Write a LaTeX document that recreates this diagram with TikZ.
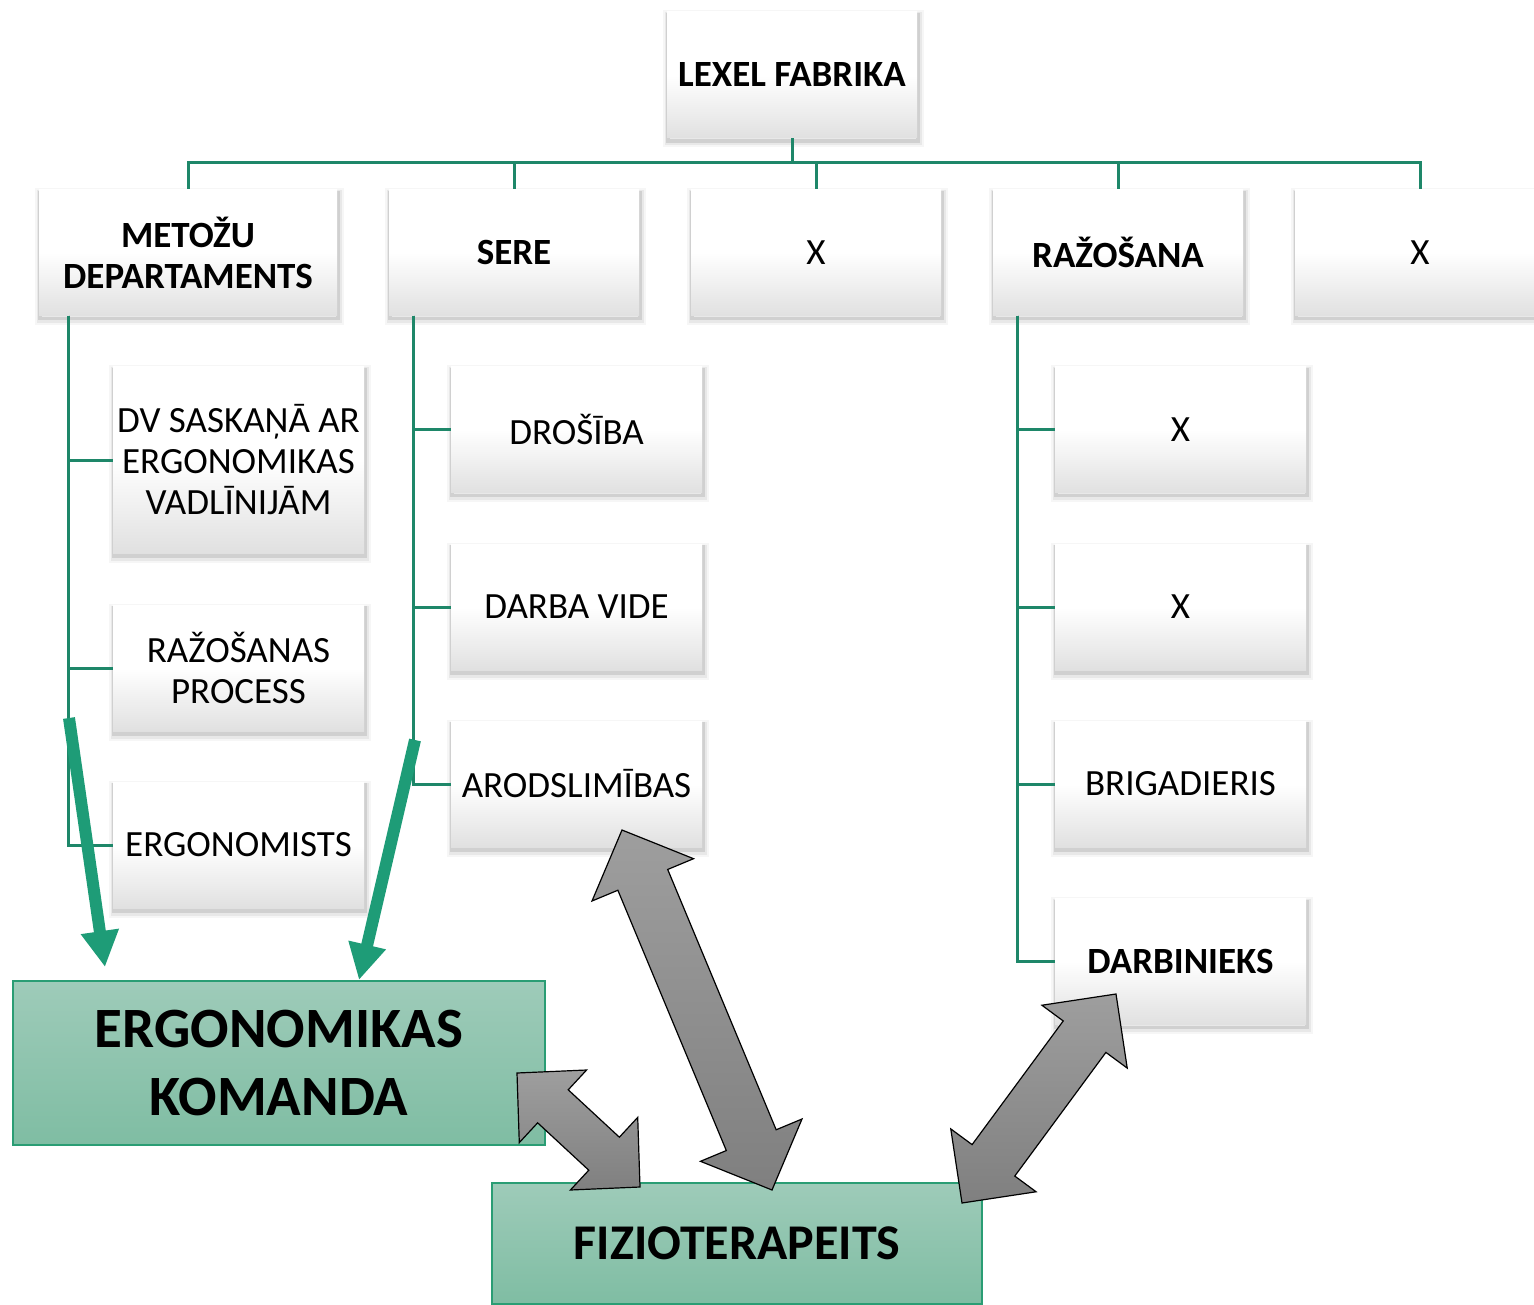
\documentclass[tikz,border=0pt]{standalone}
\usepackage{fontspec}
\setmainfont{Carlito}
\usetikzlibrary{calc,arrows.meta}
\definecolor{conncol}{RGB}{30,135,105}
\definecolor{garrcol}{RGB}{30,156,119}
\definecolor{gtop}{RGB}{158,203,185}
\definecolor{gbot}{RGB}{127,189,163}
\definecolor{gborder}{RGB}{42,157,116}
\newcommand\blockarrow[5]{%
  \path[grayarrow] (#1)
   -- ($(#1)!#5!(#2)!#4!90:(#2)$)
   -- ($(#1)!#5!(#2)!#3!90:(#2)$)
   -- ($(#2)!#5!(#1)!#3!-90:(#1)$)
   -- ($(#2)!#5!(#1)!#4!-90:(#1)$)
   -- (#2)
   -- ($(#2)!#5!(#1)!#4!90:(#1)$)
   -- ($(#2)!#5!(#1)!#3!90:(#1)$)
   -- ($(#1)!#5!(#2)!#3!-90:(#2)$)
   -- ($(#1)!#5!(#2)!#4!-90:(#2)$)
   -- cycle;}
\begin{document}
\begin{tikzpicture}[x=1pt,y=-1pt,
  softshadow/.style={
    preaction={draw=black, line width=11pt, opacity=0.035, transform canvas={shift={(1pt,-4pt)}}},
    preaction={draw=black, line width=7pt, opacity=0.06, transform canvas={shift={(1pt,-4pt)}}},
    preaction={draw=black, line width=3.5pt, opacity=0.10, transform canvas={shift={(1pt,-3pt)}}}},
  wbox/.style={softshadow, shading=axis, top color=white, bottom color=black!12, middle color=white,
    minimum width=250pt, minimum height=126pt, inner sep=0pt, align=center,
    font=\fontsize{37}{41}\selectfont},
  bwide/.style={minimum width=251pt},
  bold/.style={font=\fontsize{37}{41}\selectfont\bfseries},
  gbox/.style={shading=axis, top color=gtop, bottom color=gbot, draw=gborder, line width=2pt,
    inner sep=0pt, align=center},
  conn/.style={draw=conncol, line width=3pt},
  garrow/.style={draw=garrcol, line width=12pt, -{Triangle[length=36pt,width=36pt]}},
  grayarrow/.style={shading=axis, top color=black!38, bottom color=black!50, draw=black, line width=1.2pt, line join=miter}
]
\useasboundingbox (0,0) rectangle (1534,1305);

% top
\node[wbox, bold] (lexel) at (792,75) {LEXEL FABRIKA};
% second row
\node[wbox, bold, minimum width=298pt] (met) at (188,252.5) {METOŽU\\DEPARTAMENTS};
\node[wbox, bold] (sere) at (514,252.5) {SERE};
\node[wbox] (xa) at (816,252.5) {X};
\node[wbox, bold] (raz) at (1118,252.5) {RAŽOŠANA};
\node[wbox] (xb) at (1420,252.5) {X};
% bus
\coordinate (bus) at (792,163);
\draw[conn] (lexel.south) -- (bus);
\draw[conn] (bus) -| (met.north);
\draw[conn] (bus) -| (sere.north);
\draw[conn] (bus) -| (xa.north);
\draw[conn] (bus) -| (raz.north);
\draw[conn] (bus) -| (xb.north);

% metozu children
\node[wbox, bwide, minimum height=186pt] (dv) at (238.5,460) {DV SASKAŅĀ AR\\ERGONOMIKAS\\VADLĪNIJĀM};
\node[wbox, bwide] (rp) at (238.5,668) {RAŽOŠANAS\\PROCESS};
\node[wbox, bwide] (ergst) at (238.5,845) {ERGONOMISTS};
\coordinate (mtrunk) at ($(met.south west)+(30,0)$);
\draw[conn] (mtrunk) |- (dv.west);
\draw[conn] (mtrunk) |- (rp.west);
\draw[conn] (mtrunk) |- (ergst.west);

% sere children
\node[wbox, bwide] (dros) at (576.5,429.5) {DROŠĪBA};
\node[wbox, bwide] (dvide) at (576.5,607) {DARBA VIDE};
\node[wbox, bwide] (arod) at (576.5,784) {ARODSLIMĪBAS};
\coordinate (strunk) at ($(sere.south west)+(25,0)$);
\draw[conn] (strunk) |- (dros.west);
\draw[conn] (strunk) |- (dvide.west);
\draw[conn] (strunk) |- (arod.west);

% razosana children
\node[wbox, bwide] (rxa) at (1180.5,429.5) {X};
\node[wbox, bwide] (rxb) at (1180.5,607) {X};
\node[wbox, bwide] (brig) at (1180.5,784) {BRIGADIERIS};
\node[wbox, bwide, bold] (darb) at (1180.5,961.5) {DARBINIEKS};
\coordinate (rtrunk) at ($(raz.south west)+(25,0)$);
\draw[conn] (rtrunk) |- (rxa.west);
\draw[conn] (rtrunk) |- (rxb.west);
\draw[conn] (rtrunk) |- (brig.west);
\draw[conn] (rtrunk) |- (darb.west);

% bottom green boxes
\node[gbox, minimum width=532pt, minimum height=164pt, font=\fontsize{57}{68}\selectfont\bfseries] (ek) at (279,1063) {ERGONOMIKAS\\KOMANDA};
\node[gbox, minimum width=490pt, minimum height=121pt, font=\fontsize{50}{56}\selectfont\bfseries] (fiz) at (737,1243.5) {FIZIOTERAPEITS};

% green arrows
\coordinate (g1s) at (69,718);
\coordinate (g1e) at (105,967);
\coordinate (g2s) at (415,740);
\coordinate (g2e) at (359,980);
\draw[garrow] (g1s) -- (g1e);
\draw[garrow] (g2s) -- (g2e);

% gray double arrows
\coordinate (aa1) at (517,1073);
\coordinate (aa2) at (640,1187);
\coordinate (ab1) at (622,830);
\coordinate (ab2) at (772,1190);
\coordinate (ac1) at (1116,994);
\coordinate (ac2) at (962,1203);
\blockarrow{aa1}{aa2}{22.5pt}{49.5pt}{49pt}
\blockarrow{ab1}{ab2}{27pt}{55pt}{54pt}
\blockarrow{ac1}{ac2}{26.5pt}{53pt}{53pt}
\end{tikzpicture}
\end{document}
